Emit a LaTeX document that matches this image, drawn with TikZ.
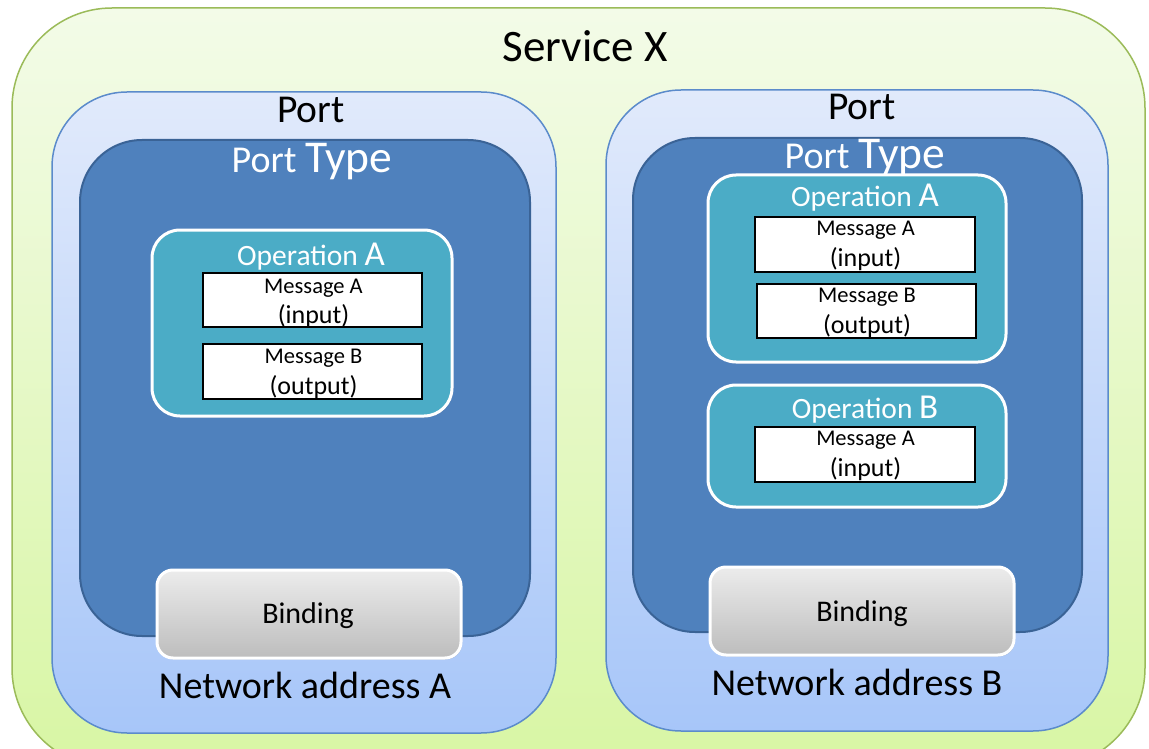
\documentclass[tikz,border=0pt]{standalone}
\usepackage{fontspec}
\setmainfont{Carlito}
\usetikzlibrary{shadows}

\definecolor{svcline}{HTML}{9BBB59}
\definecolor{svctop}{HTML}{F3FBE8}
\definecolor{svcbot}{HTML}{D8F6A4}
\definecolor{portline}{HTML}{5B8BCB}
\definecolor{porttop}{HTML}{E1EAFB}
\definecolor{portbot}{HTML}{A7C6F9}
\definecolor{ptfill}{HTML}{4F81BD}
\definecolor{ptline}{HTML}{3A6396}
\definecolor{opfill}{HTML}{4BACC6}
\definecolor{bindtop}{HTML}{ECECEC}
\definecolor{bindbot}{HTML}{BDBDBD}

\tikzset{
  box/.style={shape=rectangle, inner sep=0pt, outer sep=0pt},
  svcbox/.style={box, rounded corners=100pt, draw=svcline, line width=1.5pt,
    top color=svctop, bottom color=svcbot},
  portbox/.style={box, rounded corners=75pt, draw=portline, line width=1.5pt,
    top color=porttop, bottom color=portbot},
  ptbox/.style={box, rounded corners=62pt, draw=ptline, line width=2pt, fill=ptfill},
  opbox/.style={box, rounded corners=28pt, draw=white, line width=3pt, fill=opfill,
    drop shadow={opacity=0.25, shadow xshift=1pt, shadow yshift=-1.5pt}},
  msgbox/.style={box, draw=black, fill=white, line width=2.5pt},
  msgname/.style={anchor=base, inner sep=0pt, font=\fontsize{22.5}{27}\selectfont},
  msgrole/.style={anchor=base, inner sep=0pt, font=\fontsize{26}{31}\selectfont},
  bindbox/.style={box, rounded corners=16pt, draw=white, line width=3pt,
    top color=bindtop, bottom color=bindbot,
    drop shadow={opacity=0.3, shadow xshift=1pt, shadow yshift=-1.5pt}},
  bindlabel/.style={anchor=base, inner sep=0pt, font=\fontsize{30}{36}\selectfont},
  title/.style={anchor=base, inner sep=0pt, font=\fontsize{45}{54}\selectfont},
  portlabel/.style={anchor=base, inner sep=0pt, font=\fontsize{39.5}{47}\selectfont},
  ptlabel/.style={anchor=base, inner sep=0pt, text=white},
  oplabel/.style={anchor=base, inner sep=0pt, text=white},
  netlabel/.style={anchor=base, inner sep=0pt, font=\fontsize{38}{45}\selectfont},
}

\newcommand{\porttypetext}{{\fontsize{38}{45}\selectfont Port }{\fontsize{45.5}{54}\selectfont Type}}
\newcommand{\optext}[1]{{\fontsize{29.5}{35}\selectfont Operation }{\fontsize{35}{42}\selectfont #1}}

\begin{document}
\begin{tikzpicture}[x=1pt,y=-1pt]
  \useasboundingbox (0,0) rectangle (1149,749);
  \fill[white] (0,0) rectangle (1149,749);

  % service
  \node[svcbox, minimum width=1133pt, minimum height=760pt] (svc) at (578.5,388) {};
  \node[title] (svcT) at (585,62) {Service X};

  % ---------- left port ----------
  \node[portbox, minimum width=504pt, minimum height=641pt] (portL) at (304,412.5) {};
  \node[portlabel] (portLT) at (311,123) {Port};
  \node[ptbox, minimum width=450pt, minimum height=496pt] (ptL) at (305,388) {};
  \node[ptlabel] (ptLT) at (312,172) {\porttypetext};

  \node[opbox, minimum width=300pt, minimum height=186pt] (opAL) at (302,323) {};
  \node[oplabel] (opALT) at (311,265) {\optext{A}};
  \node[msgbox, minimum width=219pt, minimum height=54pt] (msgAL) at (312.5,300) {};
  \node[msgname] (msgALn) at (313.5,293) {Message A};
  \node[msgrole] (msgALr) at (313.5,323) {(input)};
  \node[msgbox, minimum width=219pt, minimum height=55pt] (msgBL) at (312.5,371.5) {};
  \node[msgname] (msgBLn) at (313.5,363) {Message B};
  \node[msgrole] (msgBLr) at (313.5,394) {(output)};

  \node[bindbox, minimum width=304pt, minimum height=88pt] (bindL) at (309,614) {};
  \node[bindlabel] (bindLT) at (308,623) {Binding};
  \node[netlabel] (netL) at (305,698) {Network address A};

  % ---------- right port ----------
  \node[portbox, minimum width=502pt, minimum height=641pt] (portR) at (857,410.5) {};
  \node[portlabel] (portRT) at (862,120) {Port};
  \node[ptbox, minimum width=449pt, minimum height=494pt] (ptR) at (857.5,385) {};
  \node[ptlabel] (ptRT) at (865,168) {\porttypetext};

  \node[opbox, minimum width=298pt, minimum height=187pt] (opAR) at (857,268.5) {};
  \node[oplabel] (opART) at (865,207) {\optext{A}};
  \node[msgbox, minimum width=220pt, minimum height=55pt] (msgAR) at (865,244.5) {};
  \node[msgname] (msgARn) at (865.5,235) {Message A};
  \node[msgrole] (msgARr) at (865.5,266) {(input)};
  \node[msgbox, minimum width=219pt, minimum height=54pt] (msgBR) at (866.5,311) {};
  \node[msgname] (msgBRn) at (867,302) {Message B};
  \node[msgrole] (msgBRr) at (867,333) {(output)};

  \node[opbox, minimum width=298pt, minimum height=122pt] (opBR) at (857,446) {};
  \node[oplabel] (opBRT) at (865,418) {\optext{B}};
  \node[msgbox, minimum width=220pt, minimum height=55pt] (msgCR) at (865,454.5) {};
  \node[msgname] (msgCRn) at (865.5,445) {Message A};
  \node[msgrole] (msgCRr) at (865.5,476) {(input)};

  \node[bindbox, minimum width=304pt, minimum height=88pt] (bindR) at (862,611) {};
  \node[bindlabel] (bindRT) at (862,621) {Binding};
  \node[netlabel] (netR) at (857,695) {Network address B};
\end{tikzpicture}
\end{document}
